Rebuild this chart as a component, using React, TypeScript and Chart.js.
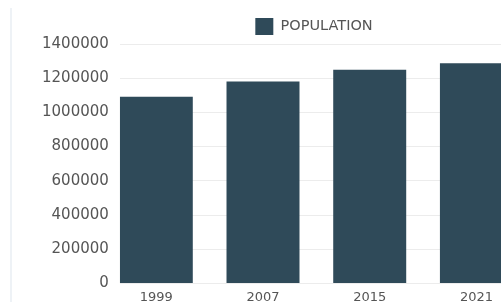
import React, { useEffect, useRef } from 'react';
import { Chart, registerables } from 'chart.js';

Chart.register(...registerables);

const categories: string[] = ['1999', '2007', '2015', '2021'];
const population: number[] = [1092000, 1180000, 1249000, 1287000];
const seriesLabel = 'POPULATION';
const yMax = 1400000;
const yStep = 200000;

const textColor = '#555555';
const barColor = '#2f4a59';
const fontFamily = '"DejaVu Sans", sans-serif';

export default function App() {
  const ref = useRef<HTMLCanvasElement | null>(null);

  useEffect(() => {
    if (!ref.current) return;
    const chart = new Chart(ref.current, {
      type: 'bar',
      data: {
        datasets: [
          {
            label: seriesLabel,
            data: categories.map((_, i) => ({ x: i, y: population[i] })),
            backgroundColor: barColor,
            borderColor: barColor,
            borderWidth: 0,
            categoryPercentage: 0.76,
            barPercentage: 0.9,
          },
        ],
      },
      options: {
        responsive: false,
        animation: false,
        devicePixelRatio: 1,
        layout: { padding: { left: 31, right: 3, top: 14, bottom: 0 } },
        plugins: {
          legend: {
            display: true,
            position: 'top',
            maxHeight: 30,
            labels: {
              boxWidth: 18,
              boxHeight: 17,
              padding: 4,
              color: textColor,
              font: { family: fontFamily, size: 14.5 },
            },
          },
          tooltip: { enabled: false },
        },
        scales: {
          x: {
            type: 'linear',
            offset: false,
            min: -0.342,
            max: 4.13,
            grid: { display: false, drawTicks: false },
            border: { display: false },
            afterBuildTicks: (axis: any) => {
              axis.ticks = categories.map((_, i) => ({ value: i }));
            },
            ticks: {
              autoSkip: false,
              maxRotation: 0,
              padding: 6,
              color: textColor,
              font: { family: fontFamily, size: 13 },
              callback: (v: any) => categories[Math.round(Number(v))] ?? '',
            },
          },
          y: {
            min: 0,
            max: yMax,
            border: { display: false },
            grid: { color: '#ececec', drawTicks: false, lineWidth: 1 },
            ticks: {
              stepSize: yStep,
              padding: 11,
              color: textColor,
              font: { family: fontFamily, size: 15 },
              callback: (v: any) => String(v),
            },
          },
        },
      },
    });
    return () => chart.destroy();
  }, []);

  return (
    <div
      style={{
        position: 'fixed',
        left: 0,
        top: 0,
        width: 501,
        height: 302,
        overflow: 'hidden',
        background: '#ffffff',
      }}
    >
      <div
        style={{
          position: 'absolute',
          left: 10,
          top: 8,
          width: 2,
          height: 294,
          background: '#eef2f6',
        }}
      />
      <canvas
        ref={ref}
        width={600}
        height={311}
        style={{ position: 'absolute', left: 0, top: 0, width: 600, height: 311, display: 'block' }}
      />
    </div>
  );
}
